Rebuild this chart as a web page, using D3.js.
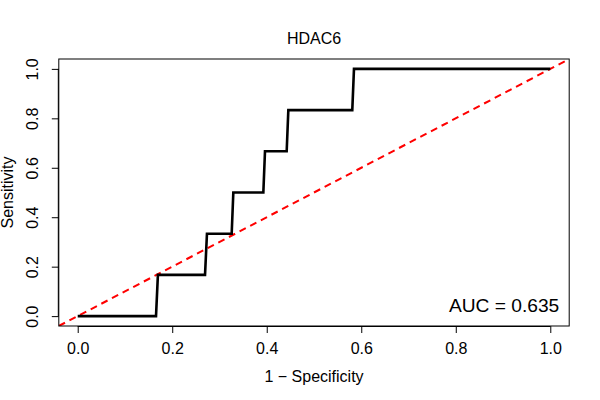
<!DOCTYPE html>
<html>
<head>
<meta charset="utf-8">
<script src="https://cdn.jsdelivr.net/npm/d3@7"></script>
<style>
  html, body { margin: 0; padding: 0; background: #fff; }
  svg { display: block; font-family: "Liberation Sans", Arial, Helvetica, sans-serif; }
</style>
</head>
<body>
<svg id="chart" width="600" height="400"></svg>
<script>
// ---- data ----
const title = "HDAC6";
const xLabel = "1 \u2212 Specificity";
const yLabel = "Sensitivity";
const aucLabel = "AUC = 0.635";
const fpr = [0, 0.1657, 0.1697, 0.2694, 0.2735, 0.3258, 0.3293, 0.3928, 0.3963, 0.4422, 0.4457, 0.5810, 0.5846, 1.0];
const tpr = [0, 0, 0.1667, 0.1667, 0.3333, 0.3333, 0.5, 0.5, 0.6667, 0.6667, 0.8333, 0.8333, 1.0, 1.0];
const xTicks = [0, 0.2, 0.4, 0.6, 0.8, 1.0];
const yTicks = [0, 0.2, 0.4, 0.6, 0.8, 1.0];
const diagonal = [-0.04, 1.04];

// ---- layout ----
const pLeft = 58.8, pRight = 569.2, pTop = 59, pBottom = 326;
const svg = d3.select("#chart");

const x = d3.scaleLinear().domain([-0.04, 1.04]).range([pLeft, pRight]);
const y = d3.scaleLinear().domain([-0.04, 1.04]).range([pBottom, pTop]);

// clip for plot region
svg.append("defs").append("clipPath").attr("id", "clip")
  .append("rect").attr("x", pLeft).attr("y", pTop)
  .attr("width", pRight - pLeft).attr("height", pBottom - pTop);

// diagonal reference line (red dashed)
svg.append("line")
  .attr("clip-path", "url(#clip)")
  .attr("x1", x(diagonal[0])).attr("y1", y(diagonal[0]))
  .attr("x2", x(diagonal[1])).attr("y2", y(diagonal[1]))
  .attr("stroke", "#ff0000").attr("stroke-width", 2)
  .attr("stroke-dasharray", "7,5");

// ROC curve
const line = d3.line().x((d, i) => x(fpr[i])).y((d, i) => y(tpr[i]));
svg.append("path")
  .datum(fpr)
  .attr("d", line)
  .attr("fill", "none")
  .attr("stroke", "#000")
  .attr("stroke-width", 2.6)
  .attr("stroke-linejoin", "miter");

// box
svg.append("rect")
  .attr("x", pLeft).attr("y", pTop)
  .attr("width", pRight - pLeft).attr("height", pBottom - pTop)
  .attr("fill", "none").attr("stroke", "#000").attr("stroke-width", 1);

// x axis
const xAxis = d3.axisBottom(x).tickValues(xTicks).tickFormat(d3.format(".1f")).tickSize(7).tickPadding(3);
const gx = svg.append("g").attr("transform", `translate(0,${pBottom})`).call(xAxis);
gx.select(".domain").attr("d", `M${x(0)},0.5H${x(1)}`).attr("stroke", "#000");
gx.selectAll(".tick line").attr("stroke", "#000");
gx.selectAll("text").attr("font-size", 16).attr("fill", "#000")
  .attr("font-family", "'Liberation Sans', Arial, sans-serif")
  .attr("dy", null).attr("y", 27.5);

// y axis
const yAxis = d3.axisLeft(y).tickValues(yTicks).tickFormat(d3.format(".1f")).tickSize(7).tickPadding(3);
const gy = svg.append("g").attr("transform", `translate(${pLeft},0)`).call(yAxis);
gy.select(".domain").attr("d", `M-0.5,${y(0)}V${y(1)}`).attr("stroke", "#000");
gy.selectAll(".tick line").attr("stroke", "#000");
gy.selectAll("text")
  .attr("font-size", 16).attr("fill", "#000")
  .attr("font-family", "'Liberation Sans', Arial, sans-serif")
  .attr("x", null).attr("dy", null)
  .attr("text-anchor", "middle")
  .attr("transform", "translate(-20.5,0) rotate(-90)");

// title
svg.append("text")
  .attr("x", (pLeft + pRight) / 2).attr("y", 43.5)
  .attr("text-anchor", "middle").attr("font-size", 16).attr("fill", "#000")
  .text(title);

// x label
svg.append("text")
  .attr("x", (pLeft + pRight) / 2).attr("y", 381.5)
  .attr("text-anchor", "middle").attr("font-size", 16).attr("fill", "#000")
  .text(xLabel);

// y label
svg.append("text")
  .attr("transform", `translate(12.5,${(pTop + pBottom) / 2}) rotate(-90)`)
  .attr("text-anchor", "middle").attr("font-size", 16).attr("fill", "#000")
  .text(yLabel);

// AUC
svg.append("text")
  .attr("x", x(1) + 9).attr("y", y(0) - 4.3)
  .attr("text-anchor", "end").attr("font-size", 19.2).attr("fill", "#000")
  .text(aucLabel);
</script>
</body>
</html>
